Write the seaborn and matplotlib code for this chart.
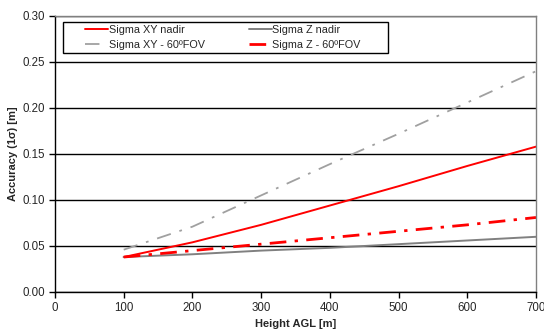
import matplotlib
matplotlib.use("Agg")
import matplotlib.pyplot as plt
import matplotlib.patches as mpatches
import seaborn as sns
import pandas as pd

height = [100, 200, 300, 400, 500, 600, 700]
xy_nadir = [0.038, 0.054, 0.073, 0.094, 0.115, 0.137, 0.158]
z_nadir = [0.038, 0.041, 0.045, 0.048, 0.052, 0.056, 0.060]
xy_fov = [0.046, 0.071, 0.105, 0.139, 0.172, 0.206, 0.240]
z_fov = [0.038, 0.045, 0.052, 0.059, 0.066, 0.073, 0.081]
labels = ["Sigma XY nadir", "Sigma Z nadir", "Sigma XY - 60ºFOV", "Sigma Z - 60ºFOV"]

sns.set_style("white")
plt.rcParams['font.family'] = ['Liberation Sans', 'DejaVu Sans']

df = pd.DataFrame({"h": height, labels[0]: xy_nadir, labels[1]: z_nadir,
                   labels[2]: xy_fov, labels[3]: z_fov})
long = df.melt(id_vars="h", var_name="series", value_name="acc")

fig = plt.figure(figsize=(5.44, 3.31), dpi=100)
ax = fig.add_axes([55/544, 1 - 292/331, (536-55)/544, (292-16)/331])

styles = {
    labels[0]: dict(color="#ff0000", lw=1.4, ls="-"),
    labels[1]: dict(color="#808080", lw=1.4, ls="-"),
    labels[2]: dict(color="#a0a0a0", lw=1.3, ls=(0, (8, 5, 1.5, 5))),
    labels[3]: dict(color="#ff0000", lw=2.0, ls=(0, (6, 3, 1.2, 3))),
}
for name in labels:
    sub = long[long.series == name]
    st = styles[name]
    sns.lineplot(data=sub, x="h", y="acc", ax=ax, color=st["color"], lw=st["lw"],
                 linestyle=st["ls"], label=name, legend=False)

ax.set_xlim(0, 700)
ax.set_ylim(0, 0.30)
ax.set_xticks(range(0, 701, 100))
ax.set_yticks([0, 0.05, 0.10, 0.15, 0.20, 0.25, 0.30])
ax.set_yticklabels([f"{v:.2f}" for v in [0, 0.05, 0.10, 0.15, 0.20, 0.25, 0.30]])
ax.yaxis.grid(True, color="black", lw=1.0)
ax.set_axisbelow(True)
for s in ["top", "right"]:
    ax.spines[s].set_color("#808080")
    ax.spines[s].set_linewidth(1.0)
for s in ["left", "bottom"]:
    ax.spines[s].set_color("black")
    ax.spines[s].set_linewidth(1.0)
ax.tick_params(axis="both", direction="out", length=4, width=1, color="black",
               labelsize=8.3, pad=3, bottom=True, left=True)
ax.set_xlabel("Height AGL [m]", fontsize=8, fontweight="bold", labelpad=4)
ax.set_ylabel("Accuracy (1σ) [m]", fontsize=8, fontweight="bold", labelpad=3)

# legend frame
W, H = 481, 276
rect = mpatches.Rectangle(((63-55)/W, (292-53)/H), (388-63)/W, 31/H,
                          transform=ax.transAxes, facecolor="white",
                          edgecolor="black", lw=1.0, zorder=4)
ax.add_patch(rect)

handles, labs = ax.get_legend_handles_labels()
order = [0, 2, 1, 3]
leg = ax.legend([handles[i] for i in order], [labs[i] for i in order],
                loc="upper left", bbox_to_anchor=((82-55)/W, 1 - (22-16)/H),
                ncol=2, fontsize=7.8, frameon=False,
                handlelength=2.1, handletextpad=0.05, borderpad=0.3,
                labelspacing=0.4, columnspacing=4.1, borderaxespad=0)
leg.set_zorder(5)

fig.savefig("out.png", dpi=100)
